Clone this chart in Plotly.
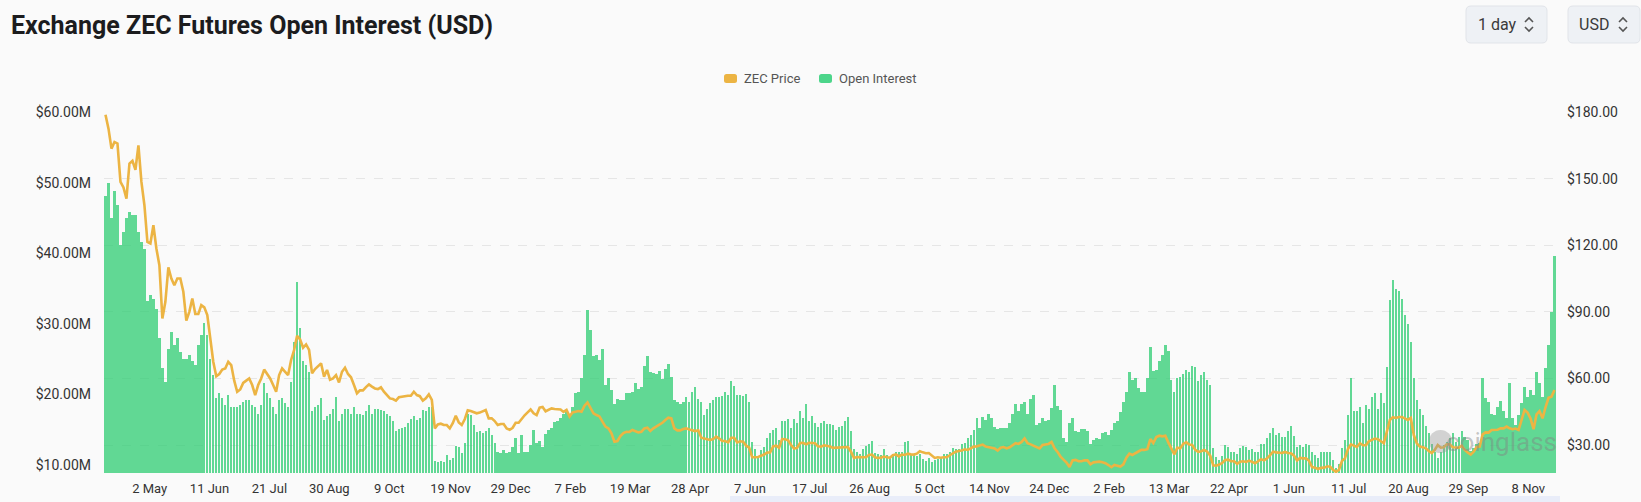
import plotly.graph_objects as go
import pandas as pd

# ---------------- data (2-day samples starting 2 Apr 2022) ----------------
START_DATE = "2022-04-02"
SAMPLE_DAYS = 2

open_interest_musd = [
    48.1, 50.0, 45.0, 48.8, 46.9, 41.2, 43.1, 45.0, 45.9, 45.5,
    45.5, 43.1, 41.7, 40.7, 33.2, 34.1, 33.6, 32.2, 28.0, 23.7,
    21.8, 26.5, 28.9, 27.0, 28.0, 26.1, 25.1, 25.1, 25.6, 24.7,
    24.2, 27.0, 28.4, 30.1, 28.4, 25.1, 22.8, 19.5, 20.2, 19.5,
    18.5, 19.9, 18.3, 18.3, 18.3, 18.5, 19.0, 19.2, 19.2, 18.5,
    18.3, 17.3, 18.5, 21.6, 20.2, 19.5, 18.3, 17.3, 19.2, 19.5,
    18.8, 18.3, 21.8, 27.5, 36.0, 29.4, 24.7, 24.2, 23.2, 17.6,
    18.3, 18.5, 19.5, 16.4, 16.9, 17.3, 18.0, 19.6, 16.2, 17.3,
    18.0, 17.9, 17.3, 18.3, 17.3, 17.2, 17.1, 17.6, 18.5, 17.3,
    18.0, 18.0, 17.8, 17.6, 17.2, 16.9, 16.2, 14.8, 15.1, 15.2,
    15.4, 15.9, 16.5, 16.9, 16.4, 16.7, 17.8, 17.6, 18.3, 18.3,
    10.6, 10.5, 10.6, 10.5, 11.4, 10.7, 11.0, 12.7, 12.5, 11.7,
    13.1, 17.3, 17.1, 15.7, 14.7, 14.8, 14.5, 14.8, 15.2, 14.3,
    13.1, 11.9, 11.7, 12.1, 11.7, 11.9, 12.5, 13.8, 11.7, 14.2,
    11.9, 11.9, 12.8, 15.0, 13.1, 13.4, 12.6, 14.4, 14.9, 15.2,
    16.1, 16.2, 16.7, 17.3, 17.7, 17.3, 18.2, 20.2, 20.4, 22.4,
    25.6, 32.0, 29.2, 25.4, 25.6, 24.9, 26.5, 21.3, 22.3, 20.6,
    18.7, 19.4, 19.2, 19.2, 20.2, 20.2, 20.4, 21.6, 20.8, 21.1,
    24.0, 25.4, 23.2, 23.0, 22.9, 23.4, 22.2, 23.6, 24.3, 22.5,
    19.2, 19.0, 18.7, 19.0, 19.6, 19.0, 20.4, 21.1, 19.4, 19.0,
    17.1, 17.9, 18.8, 19.2, 19.6, 19.6, 19.8, 20.4, 20.0, 21.9,
    21.2, 19.9, 20.0, 19.8, 20.1, 19.0, 13.2, 12.3, 11.3, 12.1,
    12.6, 13.9, 14.5, 15.0, 15.3, 13.6, 16.3, 16.3, 16.6, 15.2,
    16.6, 15.9, 17.6, 16.7, 18.6, 16.3, 16.9, 15.9, 15.4, 15.9,
    16.2, 15.8, 15.8, 15.7, 15.0, 15.4, 15.6, 16.2, 16.8, 14.8,
    12.3, 11.9, 11.5, 12.3, 12.7, 13.0, 13.4, 11.7, 11.6, 11.4,
    12.3, 11.4, 11.2, 11.6, 11.9, 11.9, 11.9, 13.2, 13.4, 11.4,
    11.5, 11.3, 11.5, 10.8, 10.6, 11.0, 10.5, 10.7, 10.8, 11.2,
    11.5, 11.6, 11.8, 12.4, 12.3, 12.3, 13.0, 13.1, 13.9, 14.3,
    14.9, 16.7, 15.3, 16.8, 16.4, 17.2, 16.7, 15.4, 15.1, 15.2,
    15.2, 15.3, 15.9, 17.2, 18.7, 17.6, 18.7, 19.0, 17.3, 19.4,
    19.9, 15.7, 15.9, 16.7, 16.2, 16.4, 18.1, 21.4, 18.4, 17.8,
    13.9, 13.3, 15.9, 16.7, 14.8, 14.7, 15.1, 15.1, 14.8, 13.0,
    13.5, 13.8, 13.7, 14.6, 14.7, 14.2, 14.9, 16.0, 16.2, 17.5,
    19.0, 20.4, 23.2, 22.1, 22.3, 20.9, 20.3, 20.4, 22.3, 26.8,
    23.4, 23.5, 24.7, 25.6, 27.0, 26.2, 22.1, 20.4, 22.3, 22.5,
    22.9, 23.5, 23.2, 24.1, 23.9, 21.9, 22.7, 23.2, 22.1, 21.3,
    12.4, 11.2, 10.7, 11.3, 12.9, 12.6, 11.9, 11.9, 11.5, 12.4,
    12.7, 12.5, 12.1, 12.3, 11.9, 11.9, 13.0, 13.0, 13.9, 14.6,
    15.2, 14.3, 14.5, 14.0, 14.0, 14.8, 15.6, 14.1, 12.5, 12.9,
    12.6, 13.0, 12.9, 11.9, 11.4, 11.0, 11.8, 11.8, 11.8, 11.9,
    10.7, 9.6, 10.1, 12.4, 13.6, 17.1, 22.3, 17.7, 17.6, 18.3,
    15.9, 18.5, 18.0, 19.7, 20.2, 18.0, 20.2, 18.8, 23.9, 33.4,
    36.3, 35.0, 34.7, 33.5, 31.3, 30.0, 27.5, 22.3, 19.2, 18.0,
    17.1, 15.5, 14.5, 13.0, 11.9, 11.0, 11.9, 12.9, 13.2, 13.8,
    14.5, 13.2, 14.0, 14.8, 14.0, 13.6, 12.0, 12.4, 13.0, 13.1,
    22.3, 19.5, 18.9, 17.3, 17.1, 18.3, 19.1, 17.6, 16.7, 21.6,
    16.7, 15.7, 17.1, 18.8, 21.1, 19.6, 20.7, 19.9, 23.2, 21.6,
    19.7, 23.7, 27.0, 31.7, 39.6,
]

zec_price_usd = [
    178.8, 172.5, 163.5, 166.5, 165.8, 148.5, 146.0, 141.0, 156.8, 158.0,
    154.0, 165.0, 148.5, 138.0, 121.5, 120.8, 129.0, 118.5, 111.0, 87.0,
    94.5, 110.0, 105.0, 102.0, 105.0, 105.0, 99.0, 86.0, 90.0, 96.0,
    89.0, 89.0, 93.0, 92.0, 88.5, 76.5, 67.5, 61.0, 62.0, 64.0,
    64.5, 67.5, 66.0, 59.0, 54.0, 55.0, 58.0, 59.0, 60.0, 57.0,
    52.5, 57.0, 60.0, 64.0, 62.0, 60.0, 57.0, 54.0, 61.5, 64.5,
    63.0, 61.5, 68.3, 72.8, 79.2, 77.6, 73.8, 75.3, 72.8, 62.3,
    64.2, 65.7, 66.8, 60.8, 63.8, 59.4, 60.0, 61.5, 58.2, 63.0,
    64.8, 62.0, 60.5, 57.0, 53.3, 54.6, 54.6, 56.1, 57.3, 56.3,
    55.5, 55.2, 56.0, 54.0, 52.5, 51.0, 50.7, 50.0, 51.5, 51.8,
    52.2, 52.2, 52.2, 54.0, 52.5, 52.0, 50.0, 51.0, 52.8, 50.3,
    37.5, 39.3, 39.6, 39.0, 39.0, 37.5, 39.8, 43.2, 40.2, 39.0,
    41.6, 45.6, 45.3, 44.7, 44.3, 44.6, 45.3, 45.8, 42.0, 42.0,
    40.8, 39.0, 39.5, 39.5, 37.5, 36.9, 37.8, 40.0, 40.0, 42.0,
    43.4, 44.7, 46.0, 44.3, 43.5, 46.8, 47.1, 45.2, 45.9, 46.5,
    46.2, 46.0, 46.0, 44.9, 45.8, 42.9, 44.7, 45.0, 45.3, 45.0,
    47.7, 49.2, 47.0, 44.3, 43.5, 42.9, 40.5, 38.3, 37.5, 35.3,
    31.5, 31.8, 34.0, 35.4, 36.0, 35.9, 36.8, 36.3, 35.7, 36.0,
    37.5, 37.8, 36.3, 37.5, 38.3, 39.0, 40.0, 41.3, 42.3, 42.0,
    37.5, 36.6, 36.6, 37.2, 37.5, 37.0, 36.6, 36.3, 36.6, 33.3,
    32.9, 32.6, 32.3, 32.7, 33.8, 32.9, 31.8, 31.8, 31.2, 33.3,
    33.3, 31.2, 31.7, 31.5, 29.7, 28.8, 24.5, 24.5, 24.6, 25.2,
    25.7, 26.6, 26.6, 29.4, 29.7, 28.8, 32.7, 32.6, 32.1, 30.0,
    28.4, 28.7, 30.9, 31.0, 30.3, 31.0, 30.8, 30.8, 29.4, 29.3,
    29.9, 29.7, 29.3, 28.7, 28.8, 29.1, 29.1, 29.3, 29.1, 27.0,
    24.2, 24.6, 24.6, 24.8, 24.5, 25.5, 25.7, 24.5, 24.2, 24.3,
    24.8, 24.5, 24.3, 25.4, 25.8, 24.9, 25.7, 25.5, 26.1, 25.8,
    25.7, 26.1, 27.2, 26.7, 26.3, 26.4, 25.5, 24.2, 24.5, 24.3,
    24.5, 24.5, 25.4, 26.4, 27.0, 27.3, 27.5, 28.1, 27.8, 28.5,
    29.3, 29.4, 29.7, 30.2, 29.3, 29.0, 28.8, 28.5, 27.5, 28.8,
    29.1, 28.5, 29.0, 30.0, 30.8, 30.5, 31.4, 33.0, 30.8, 30.3,
    29.7, 29.0, 28.5, 30.0, 30.3, 30.5, 31.4, 28.5, 26.9, 24.8,
    23.4, 22.1, 20.1, 23.1, 23.3, 22.7, 22.7, 23.1, 23.1, 21.3,
    22.2, 22.5, 22.5, 22.2, 21.8, 21.0, 20.0, 21.0, 20.7, 20.3,
    21.3, 24.3, 26.1, 25.5, 26.3, 27.0, 27.8, 27.8, 28.1, 32.7,
    30.9, 33.6, 34.2, 33.9, 34.2, 31.2, 28.8, 25.8, 28.8, 28.5,
    30.6, 31.2, 30.2, 30.0, 27.8, 26.9, 27.2, 27.8, 27.0, 25.2,
    20.9, 20.7, 21.2, 21.9, 23.3, 23.4, 22.7, 22.7, 21.5, 22.5,
    22.7, 22.4, 23.0, 22.5, 21.8, 22.7, 23.6, 23.1, 24.0, 25.5,
    27.0, 26.7, 26.4, 26.4, 26.9, 26.4, 26.3, 25.2, 23.0, 24.2,
    24.0, 24.0, 22.9, 20.1, 19.8, 19.2, 19.7, 19.8, 20.3, 20.3,
    18.9, 17.9, 18.8, 22.8, 24.0, 28.2, 30.3, 29.6, 29.1, 30.8,
    29.9, 29.9, 31.7, 32.3, 32.9, 32.6, 31.5, 30.8, 36.0, 41.3,
    42.5, 42.2, 42.6, 42.6, 42.0, 41.3, 42.2, 34.5, 30.8, 29.3,
    29.0, 28.5, 27.3, 26.4, 27.8, 30.0, 28.8, 29.0, 30.3, 30.3,
    29.0, 28.8, 28.8, 29.7, 27.8, 26.6, 25.7, 27.0, 29.1, 29.3,
    34.8, 35.7, 35.6, 36.8, 36.9, 36.9, 37.5, 37.5, 38.3, 37.5,
    37.1, 37.4, 36.8, 41.3, 45.8, 44.6, 42.0, 37.1, 43.8, 45.3,
    42.0, 47.0, 51.3, 51.8, 54.8,
]

x_tick_dates = [
    "2022-05-02", "2022-06-11", "2022-07-21", "2022-08-30", "2022-10-09", "2022-11-19",
    "2022-12-29", "2023-02-07", "2023-03-19", "2023-04-28", "2023-06-07", "2023-07-17",
    "2023-08-26", "2023-10-05", "2023-11-14", "2023-12-24", "2024-02-02", "2024-03-13",
    "2024-04-22", "2024-06-01", "2024-07-11", "2024-08-20", "2024-09-29", "2024-11-08",
]
x_tick_labels = [
    "2 May", "11 Jun", "21 Jul", "30 Aug", "9 Oct", "19 Nov", "29 Dec", "7 Feb",
    "19 Mar", "28 Apr", "7 Jun", "17 Jul", "26 Aug", "5 Oct", "14 Nov", "24 Dec",
    "2 Feb", "13 Mar", "22 Apr", "1 Jun", "11 Jul", "20 Aug", "29 Sep", "8 Nov",
]
oi_tick_values = [10e6, 20e6, 30e6, 40e6, 50e6, 60e6]
oi_tick_labels = ["$10.00M", "$20.00M", "$30.00M", "$40.00M", "$50.00M", "$60.00M"]
price_tick_values = [30, 60, 90, 120, 150, 180]
price_tick_labels = ["$30.00", "$60.00", "$90.00", "$120.00", "$150.00", "$180.00"]

# ---------------- styling / layout ----------------
W, H = 1641, 502
L, R, T, B = 104, 85, 112, 29
PW, PH = W - L - R, H - T - B

BG = "#fafafa"
GREEN = "rgba(46,204,113,0.75)"
ORANGE = "#ecb443"
TXT = "#333333"
FONT = "Roboto"


def px(x):
    return (x - L) / PW


def py(y):
    return (H - B - y) / PH


def rrect(x0, y0, x1, y1, r):
    return (
        f"M {px(x0 + r)},{py(y0)} L {px(x1 - r)},{py(y0)} "
        f"Q {px(x1)},{py(y0)} {px(x1)},{py(y0 + r)} L {px(x1)},{py(y1 - r)} "
        f"Q {px(x1)},{py(y1)} {px(x1 - r)},{py(y1)} L {px(x0 + r)},{py(y1)} "
        f"Q {px(x0)},{py(y1)} {px(x0)},{py(y1 - r)} L {px(x0)},{py(y0 + r)} "
        f"Q {px(x0)},{py(y0)} {px(x0 + r)},{py(y0)} Z"
    )


dates = pd.date_range(START_DATE, periods=len(open_interest_musd), freq=f"{SAMPLE_DAYS}D") + pd.Timedelta(days=SAMPLE_DAYS / 2)
day_ms = 86400000

fig = go.Figure()
fig.add_trace(go.Bar(
    x=dates, y=[v * 1e6 for v in open_interest_musd], name="Open Interest",
    marker=dict(color=GREEN, line=dict(width=0)),
    width=SAMPLE_DAYS * day_ms * 0.8, yaxis="y",
))
fig.add_trace(go.Scatter(
    x=dates, y=zec_price_usd, name="ZEC Price", mode="lines",
    line=dict(color=ORANGE, width=2.6), yaxis="y2",
))

tickvals_x = [pd.Timestamp(d) + pd.Timedelta(hours=12) for d in x_tick_dates]

shapes = []
annotations = []

# title
annotations.append(dict(
    text="<b>Exchange ZEC Futures Open Interest (USD)</b>", x=px(9), y=py(25),
    xref="paper", yref="paper", xanchor="left", yanchor="middle", showarrow=False,
    font=dict(family=FONT, size=25, color="#1c1c1e"),
))

# dropdown boxes
for (x0, x1, label, tx, cx) in [(1466, 1547, "1 day", 1476, 1529), (1568, 1640, "USD", 1577, 1623)]:
    shapes.append(dict(type="path", path=rrect(x0, 6, x1, 43, 5), xref="paper", yref="paper",
                       fillcolor="#eef1f5", line=dict(color="#e1e4e9", width=1), layer="above"))
    annotations.append(dict(text=label, x=px(tx), y=py(24.5), xref="paper", yref="paper",
                            xanchor="left", yanchor="middle", showarrow=False,
                            font=dict(family=FONT, size=16, color="#3a3a3a")))
    shapes.append(dict(type="path", path=f"M {px(cx-4)},{py(22)} L {px(cx)},{py(18)} L {px(cx+4)},{py(22)}",
                       xref="paper", yref="paper", line=dict(color="#555", width=1.6)))
    shapes.append(dict(type="path", path=f"M {px(cx-4)},{py(27)} L {px(cx)},{py(31)} L {px(cx+4)},{py(27)}",
                       xref="paper", yref="paper", line=dict(color="#555", width=1.6)))

# custom legend
shapes.append(dict(type="path", path=rrect(724, 74, 737, 83, 2.5), xref="paper", yref="paper",
                   fillcolor=ORANGE, line=dict(width=0)))
annotations.append(dict(text="ZEC Price", x=px(742), y=py(78.5), xref="paper", yref="paper",
                        xanchor="left", yanchor="middle", showarrow=False,
                        font=dict(family=FONT, size=13, color="#555")))
shapes.append(dict(type="path", path=rrect(819, 74, 832, 83, 2.5), xref="paper", yref="paper",
                   fillcolor="#4cd58a", line=dict(width=0)))
annotations.append(dict(text="Open Interest", x=px(837), y=py(78.5), xref="paper", yref="paper",
                        xanchor="left", yanchor="middle", showarrow=False,
                        font=dict(family=FONT, size=13, color="#555")))

# watermark
shapes.append(dict(type="circle", x0=px(1429), x1=px(1452), y0=py(453), y1=py(430), xref="paper", yref="paper",
                   fillcolor="rgba(150,150,150,0.40)", line=dict(width=0), layer="above"))
annotations.append(dict(text="coinglass", x=px(1501), y=py(442), xref="paper", yref="paper",
                        xanchor="center", yanchor="middle", showarrow=False,
                        font=dict(family=FONT, size=26, color="rgba(130,130,130,0.45)")))

# slider strip at the bottom
shapes.append(dict(type="rect", x0=px(730), x1=px(1560), y0=py(502), y1=py(496), xref="paper", yref="paper",
                   fillcolor="#e9edf9", line=dict(width=0)))

fig.update_layout(
    width=W, height=H,
    margin=dict(l=L, r=R, t=T, b=B, pad=0),
    paper_bgcolor=BG, plot_bgcolor=BG,
    showlegend=False, bargap=0,
    font=dict(family=FONT, size=13, color=TXT),
    xaxis=dict(
        type="date", range=[pd.Timestamp(START_DATE), pd.Timestamp("2024-11-27")],
        tickvals=tickvals_x, ticktext=x_tick_labels, showgrid=False, zeroline=False,
        showline=False, ticks="", tickfont=dict(size=13, color=TXT), ticklabelstandoff=6,
        automargin=False,
    ),
    yaxis=dict(
        range=[8.87e6, 60.07e6], tickvals=oi_tick_values, ticktext=oi_tick_labels,
        showgrid=False, zeroline=False, showline=False, ticks="",
        tickfont=dict(size=14, color=TXT), ticklabelstandoff=12, automargin=False,
    ),
    yaxis2=dict(
        overlaying="y", side="right", range=[17.4, 180.0],
        tickvals=price_tick_values, ticktext=price_tick_labels,
        showgrid=True, gridcolor="#e6e6e6", griddash="dash", gridwidth=1,
        zeroline=False, showline=False, ticks="",
        tickfont=dict(size=14, color=TXT), ticklabelstandoff=10, automargin=False,
    ),
    shapes=shapes, annotations=annotations,
)

fig.write_html(
    "out.html",
    config={"displayModeBar": False},
    post_script="document.body.style.margin='0';document.body.style.padding='0';document.body.style.overflow='hidden';",
)
